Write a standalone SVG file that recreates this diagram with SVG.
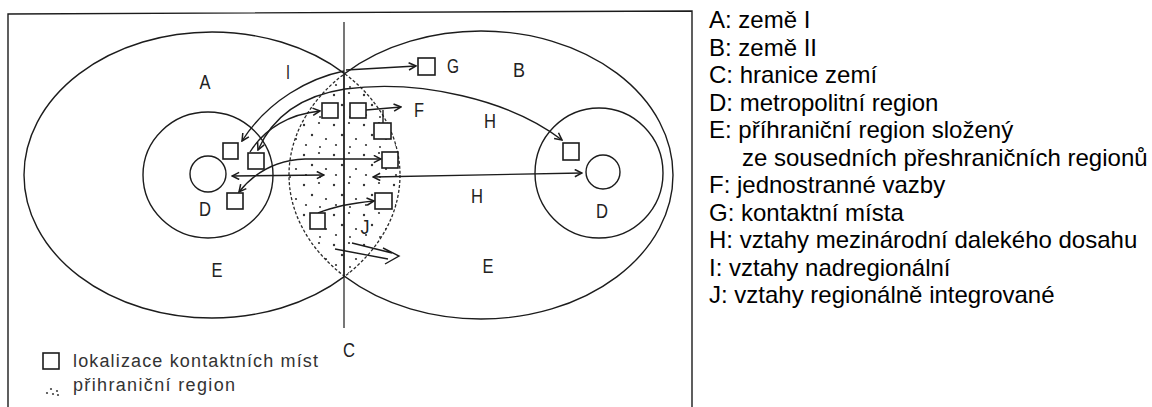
<svg xmlns="http://www.w3.org/2000/svg" width="1152" height="407" viewBox="0 0 1152 407">
<style>
.ln{fill:none;stroke:#1c1c1c;stroke-width:1.4}
.th{fill:none;stroke:#1c1c1c;stroke-width:1.2}
.ds{fill:none;stroke:#2a2a2a;stroke-width:1.3;stroke-dasharray:3 2}
.sq{fill:#fff;stroke:#1c1c1c;stroke-width:1.6}
.lb{font-family:"Liberation Sans",Arial,sans-serif;font-size:20px;fill:#222;text-anchor:middle}
.lg{font-family:"Liberation Sans",Arial,sans-serif;font-size:18px;fill:#333}
.rt{font-family:"Liberation Sans",Arial,sans-serif;font-size:24px;fill:#000}
.arr{marker-end:url(#ah)}
.arr2{marker-start:url(#ah);marker-end:url(#ah)}
</style>
<defs>
<marker id="ah" viewBox="0 0 10 10" refX="9" refY="5" markerWidth="9" markerHeight="9" markerUnits="userSpaceOnUse" orient="auto-start-reverse">
<path d="M1,1 L9,5 L1,9" fill="none" stroke="#1c1c1c" stroke-width="1.7"/>
</marker>
<pattern id="dots" width="30" height="30" patternUnits="userSpaceOnUse">
<circle cx="4" cy="5" r="1.2" fill="#333"/>
<circle cx="19" cy="3" r="1.1" fill="#333"/>
<circle cx="12" cy="15" r="1.2" fill="#333"/>
<circle cx="26" cy="19" r="1.1" fill="#333"/>
<circle cx="6" cy="25" r="1.1" fill="#333"/>
<circle cx="20" cy="27" r="1.0" fill="#333"/>
</pattern>
<clipPath id="clipL"><ellipse cx="212" cy="175" rx="188" ry="143"/></clipPath>
<clipPath id="clipR"><ellipse cx="481" cy="175" rx="192" ry="144"/></clipPath>
<clipPath id="westC"><rect x="0" y="0" width="345" height="407"/></clipPath>
<clipPath id="eastC"><rect x="345" y="0" width="807" height="407"/></clipPath>
</defs>

<g id="frame">
<path class="ln" d="M8,407 L8,14 L692,11 L692,407" stroke-width="1.6"/>
</g>

<g id="lens-region">
<g clip-path="url(#clipL)">
<rect x="280" y="60" width="130" height="230" fill="url(#dots)" clip-path="url(#clipR)"/>
</g>
</g>

<g id="node-A-country1">
<ellipse class="ln" cx="212" cy="175" rx="188" ry="143" clip-path="url(#westC)"/>
<ellipse class="ds" cx="212" cy="175" rx="188" ry="143" clip-path="url(#eastC)"/>
</g>
<g id="node-B-country2">
<ellipse class="ln" cx="481" cy="175" rx="192" ry="144" clip-path="url(#eastC)"/>
<ellipse class="ds" cx="481" cy="175" rx="192" ry="144" clip-path="url(#westC)"/>
</g>
<g id="node-D-left">
<ellipse class="ln" cx="208" cy="175" rx="65" ry="63"/>
<circle class="ln" cx="208" cy="174" r="18"/>
</g>
<g id="node-D-right">
<ellipse class="ln" cx="599" cy="173" rx="64" ry="65"/>
<circle class="ln" cx="603" cy="172" r="17"/>
</g>
<g id="node-C-border">
<line class="th" x1="344" y1="22" x2="344" y2="328"/>
<line class="ln" x1="344" y1="74" x2="344" y2="276" stroke-width="2.4"/>
</g>

<g id="connectors">
<path class="ln arr" d="M346,70 L416,66"/>
<path class="ln arr" d="M344,71 C310,78 268,100 242,141"/>
<path class="ln arr2" d="M258,150 C272,118 300,96 345,89 C420,79 510,100 562,140"/>
<path class="ln arr" d="M250,152 C265,128 290,114 320,111"/>
<path class="ln arr" d="M366,110 L401,107"/>
<path class="ln" d="M383,110 L383,123"/>
<path class="ln arr2" d="M239,192 C255,172 278,160 305,159 L381,159"/>
<path class="ln arr2" d="M232,176 L324,175"/>
<path class="ln arr2" d="M373,177 L582,173"/>
<path class="ln arr" d="M318,213 C335,206 352,203 374,201"/>
<path class="ln" d="M352,243 L392,253 M335,249 L388,259 M383,248 L399,256 L385,264" stroke-width="1.8"/>
</g>

<g id="squares">
<rect class="sq" x="223" y="143" width="15" height="16"/>
<rect class="sq" x="248" y="153" width="16" height="16"/>
<rect class="sq" x="227" y="193" width="16" height="16"/>
<rect class="sq" x="322" y="103" width="16" height="15"/>
<rect class="sq" x="350" y="103" width="16" height="15"/>
<rect class="sq" x="374" y="123" width="17" height="16"/>
<rect class="sq" x="382" y="152" width="16" height="16"/>
<rect class="sq" x="375" y="193" width="17" height="16"/>
<rect class="sq" x="310" y="213" width="15" height="16"/>
<rect class="sq" x="418" y="58" width="17" height="17"/>
<rect class="sq" x="563" y="143" width="16" height="17"/>
</g>

<g id="labels">
<text class="lb" x="205" y="89" textLength="11" lengthAdjust="spacingAndGlyphs">A</text>
<text class="lb" x="288" y="79" textLength="4" lengthAdjust="spacingAndGlyphs">I</text>
<text class="lb" x="453" y="73" textLength="12" lengthAdjust="spacingAndGlyphs">G</text>
<text class="lb" x="519" y="77" textLength="12" lengthAdjust="spacingAndGlyphs">B</text>
<text class="lb" x="419" y="117" textLength="10" lengthAdjust="spacingAndGlyphs">F</text>
<text class="lb" x="490" y="128" textLength="12" lengthAdjust="spacingAndGlyphs">H</text>
<text class="lb" x="477" y="203" textLength="12" lengthAdjust="spacingAndGlyphs">H</text>
<text class="lb" x="205" y="216" textLength="12" lengthAdjust="spacingAndGlyphs">D</text>
<text class="lb" x="602" y="218" textLength="12" lengthAdjust="spacingAndGlyphs">D</text>
<text class="lb" x="217" y="277" textLength="11" lengthAdjust="spacingAndGlyphs">E</text>
<text class="lb" x="488" y="273" textLength="11" lengthAdjust="spacingAndGlyphs">E</text>
<text class="lb" x="365" y="234" textLength="9" lengthAdjust="spacingAndGlyphs">J</text>
<text class="lb" x="349" y="357" textLength="12" lengthAdjust="spacingAndGlyphs">C</text>
</g>

<g id="legend-inner">
<rect class="sq" x="43" y="353" width="16" height="16"/>
<text class="lg" x="73" y="367" textLength="245" lengthAdjust="spacing">lokalizace kontaktních míst</text>
<circle cx="47" cy="393" r="1.1" fill="#444"/>
<circle cx="51" cy="389" r="1.1" fill="#444"/>
<circle cx="53" cy="394" r="1.1" fill="#444"/>
<circle cx="57" cy="391" r="1.1" fill="#444"/>
<circle cx="58" cy="395" r="1.1" fill="#444"/>
<text class="lg" x="73" y="391" textLength="162" lengthAdjust="spacing">přihraniční region</text>
</g>

<g id="legend-right">
<text class="rt" x="709" y="28">A: země I</text>
<text class="rt" x="709" y="55.5">B: země II</text>
<text class="rt" x="709" y="83">C: hranice zemí</text>
<text class="rt" x="709" y="110.5">D: metropolitní region</text>
<text class="rt" x="709" y="138">E: příhraniční region složený</text>
<text class="rt" x="742" y="165.5">ze sousedních přeshraničních regionů</text>
<text class="rt" x="709" y="193">F: jednostranné vazby</text>
<text class="rt" x="709" y="220.5">G: kontaktní místa</text>
<text class="rt" x="709" y="248">H: vztahy mezinárodní dalekého dosahu</text>
<text class="rt" x="709" y="275.5">I: vztahy nadregionální</text>
<text class="rt" x="709" y="303">J: vztahy regionálně integrované</text>
</g>
</svg>
